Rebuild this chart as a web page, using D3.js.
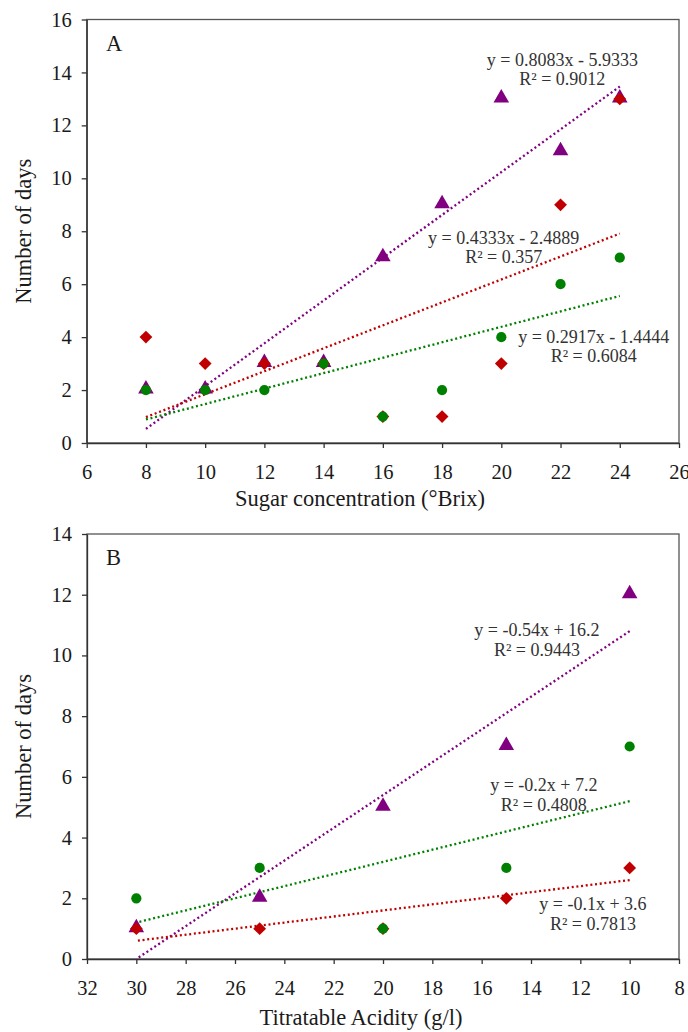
<!DOCTYPE html>
<html>
<head>
<meta charset="utf-8">
<script src="https://cdn.jsdelivr.net/npm/d3@7"></script>
<style>
  body { margin: 0; background: #fff; }
  svg { display: block; font-family: "Liberation Serif", "Times New Roman", serif; }
</style>
</head>
<body>
<div id="chart"></div>
<script>
// данные панели A (сахар)
const sugarX = [8, 10, 12, 14, 16, 18, 20, 22, 24];
const sugarPurple = [2, 2, 3, 3, 7, 9, 13, 11, 13];
const sugarRed = [4, 3, 3, 3, 1, 1, 3, 9, 13];
const sugarGreen = [2, 2, 2, 3, 1, 2, 4, 6, 7];
const sugarTicks = [6, 8, 10, 12, 14, 16, 18, 20, 22, 24, 26];
const daysTicksA = [0, 2, 4, 6, 8, 10, 12, 14, 16];
const sugarEq = {
    purple: ['y = 0.8083x - 5.9333', 'R\u00B2 = 0.9012'],
    red: ['y = 0.4333x - 2.4889', 'R\u00B2 = 0.357'],
    green: ['y = 0.2917x - 1.4444', 'R\u00B2 = 0.6084']
};

// данные панели B (кислотность)
const acidX = [30, 25, 20, 15, 10];
const acidPurple = [1, 2, 5, 7, 12];
const acidRed = [1, 1, 1, 2, 3];
const acidGreen = [2, 3, 1, 3, 7];
const acidTicks = [32, 30, 28, 26, 24, 22, 20, 18, 16, 14, 12, 10, 8];
const daysTicksB = [0, 2, 4, 6, 8, 10, 12, 14];
const acidEq = {
    purple: ['y = -0.54x + 16.2', 'R\u00B2 = 0.9443'],
    red: ['y = -0.1x + 3.6', 'R\u00B2 = 0.7813'],
    green: ['y = -0.2x + 7.2', 'R\u00B2 = 0.4808']
};

const colors = { purple: '#800080', red: '#c00000', green: '#008000' };

const svg = d3.select('#chart').append('svg')
    .attr('width', 688)
    .attr('height', 1032);

// линейная регрессия для линий тренда
function fit(xs, ys) {
    const mx = d3.mean(xs), my = d3.mean(ys);
    let sxy = 0, sxx = 0;
    xs.forEach((x, i) => { sxy += (x - mx) * (ys[i] - my); sxx += (x - mx) * (x - mx); });
    const m = sxy / sxx;
    return { m: m, b: my - m * mx };
}

function drawPanel(p) {
    const x = d3.scaleLinear().domain(p.xDomain).range([p.left, p.right]);
    const y = d3.scaleLinear().domain(p.yDomain).range([p.bottom, p.top]);
    const g = svg.append('g');

    // рамка
    g.append('rect')
        .attr('x', p.left).attr('y', p.top)
        .attr('width', p.right - p.left).attr('height', p.bottom - p.top)
        .attr('fill', 'none').attr('stroke', '#555').attr('stroke-width', 1.3);

    const yAxis = g.append('g')
        .attr('transform', `translate(${p.left},0)`)
        .call(d3.axisLeft(y).tickValues(p.yTicks).tickSize(5).tickSizeOuter(0).tickPadding(10));
    const xAxis = g.append('g')
        .attr('transform', `translate(0,${p.bottom})`)
        .call(d3.axisBottom(x).tickValues(p.xTicks).tickSize(5).tickSizeOuter(0).tickPadding(16));
    [xAxis, yAxis].forEach(a => {
        a.selectAll('path, line').attr('stroke', '#333').attr('stroke-width', 1.3);
        a.selectAll('text').attr('font-size', 20.5).attr('fill', '#1a1a1a')
            .attr('font-family', '"Liberation Serif", serif');
    });

    // подписи осей
    g.append('text')
        .attr('x', p.xTitlePos[0]).attr('y', p.xTitlePos[1])
        .attr('text-anchor', 'middle').attr('font-size', 22.5).attr('fill', '#1a1a1a')
        .text(p.xTitle);
    g.append('text')
        .attr('transform', `translate(31,${(p.top + p.bottom) / 2}) rotate(-90)`)
        .attr('text-anchor', 'middle').attr('font-size', 22.5).attr('fill', '#1a1a1a')
        .text('Number of days');
    g.append('text')
        .attr('x', 106).attr('y', p.top + 31)
        .attr('font-size', 22.5).attr('fill', '#1a1a1a')
        .text(p.letter);

    // линии тренда
    ['purple', 'red', 'green'].forEach(k => {
        const ys = p.series[k];
        const f = fit(p.xs, ys);
        const x0 = d3.min(p.xs), x1 = d3.max(p.xs);
        g.append('line')
            .attr('x1', x(x0)).attr('y1', y(f.m * x0 + f.b))
            .attr('x2', x(x1)).attr('y2', y(f.m * x1 + f.b))
            .attr('stroke', colors[k]).attr('stroke-width', 2.3)
            .attr('stroke-dasharray', '2 2.7');
    });

    // маркеры: треугольники, ромбы, круги
    const tri = d3.symbol().type(d3.symbolTriangle).size(105)();
    const dia = d3.symbol().type(d3.symbolSquare).size(82)();
    const circ = d3.symbol().type(d3.symbolCircle).size(82)();
    g.selectAll('.tri').data(p.xs.map((v, i) => [v, p.series.purple[i]]))
        .enter().append('path').attr('class', 'tri')
        .attr('d', tri).attr('fill', colors.purple)
        .attr('transform', d => `translate(${x(d[0])},${y(d[1]) - 1})`);
    g.selectAll('.dia').data(p.xs.map((v, i) => [v, p.series.red[i]]))
        .enter().append('path').attr('class', 'dia')
        .attr('d', dia).attr('fill', colors.red)
        .attr('transform', d => `translate(${x(d[0])},${y(d[1])}) rotate(45)`);
    g.selectAll('.circ').data(p.xs.map((v, i) => [v, p.series.green[i]]))
        .enter().append('path').attr('class', 'circ')
        .attr('d', circ).attr('fill', colors.green)
        .attr('transform', d => `translate(${x(d[0])},${y(d[1])})`);

    // уравнения
    ['purple', 'red', 'green'].forEach(k => {
        const pos = p.eqPos[k];
        const t = g.append('text')
            .attr('text-anchor', 'middle').attr('font-size', 18).attr('fill', '#333');
        p.eq[k].forEach((line, i) => {
            t.append('tspan')
                .attr('x', x(pos[0])).attr('y', y(pos[1]) + i * 19.5)
                .text(line);
        });
    });
}

drawPanel({
    letter: 'A',
    left: 86.7, right: 679, top: 19.5, bottom: 443,
    xDomain: [6, 26], yDomain: [0, 16],
    xTicks: sugarTicks, yTicks: daysTicksA,
    xs: sugarX,
    series: { purple: sugarPurple, red: sugarRed, green: sugarGreen },
    eq: sugarEq,
    eqPos: { purple: [22.06, 14.26], red: [20.08, 7.53], green: [23.12, 3.78] },
    xTitle: 'Sugar concentration (\u00B0Brix)',
    xTitlePos: [360, 506]
});

drawPanel({
    letter: 'B',
    left: 87, right: 679, top: 534, bottom: 959,
    xDomain: [32, 8], yDomain: [0, 14],
    xTicks: acidTicks, yTicks: daysTicksB,
    xs: acidX,
    series: { purple: acidPurple, red: acidRed, green: acidGreen },
    eq: acidEq,
    eqPos: { purple: [13.76, 10.64], red: [11.49, 1.61], green: [13.48, 5.53] },
    xTitle: 'Titratable Acidity (g/l)',
    xTitlePos: [361, 1025]
});
</script>
</body>
</html>
